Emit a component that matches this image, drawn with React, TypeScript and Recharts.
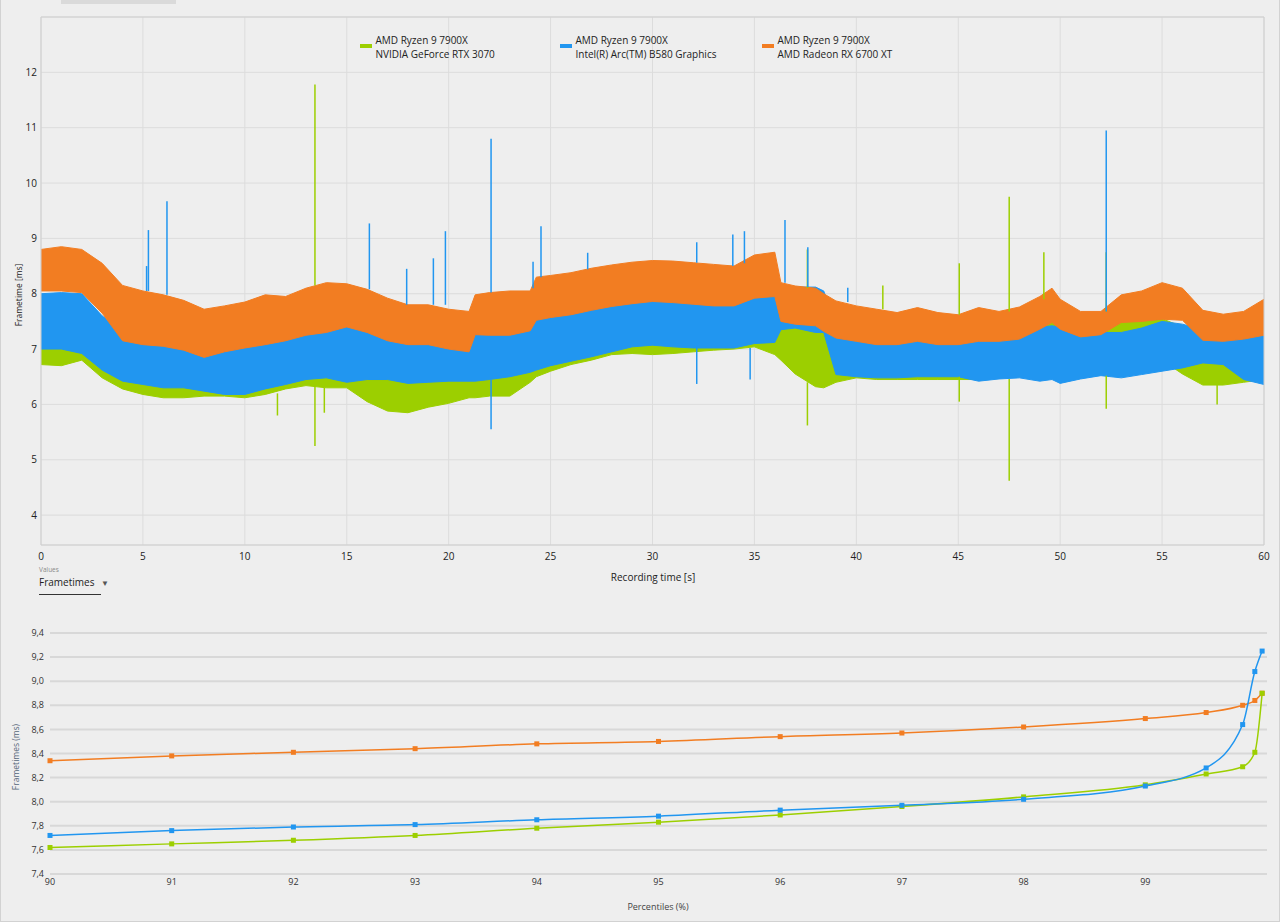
import React from "react";
import {
  ComposedChart,
  Area,
  XAxis,
  YAxis,
  CartesianGrid,
  ReferenceLine,
  ReferenceArea,
  LineChart,
  Line,
} from "recharts";

const FONT = "'Open Sans', 'Noto Sans', sans-serif";
const GREEN = "#9ccf00";
const BLUE = "#2196f0";
const ORANGE = "#f27d22";

// ---- frametime band (low / high edge of the dense noise) ----
const SECONDS = [
  0, 1, 2, 3, 4, 5, 6, 7, 8, 9, 10, 11, 12, 13, 14, 15, 16, 17, 18, 19, 20, 21, 21.3, 22, 23, 24, 24.3, 25, 26, 27, 28,
  29, 30, 31, 32, 33, 34, 35, 36, 36.3, 37, 38, 38.4, 39, 40, 41, 42, 43, 44, 45, 46, 47, 48, 49, 49.6, 50, 51, 52, 53,
  54, 55, 56, 57, 58, 59, 60,
];

const ORANGE_HI = [
  8.8, 8.85, 8.8, 8.55, 8.15, 8.05, 7.98, 7.88, 7.72, 7.78, 7.85, 7.98, 7.95, 8.1, 8.2, 8.18, 8.08, 7.92, 7.8, 7.8,
  7.72, 7.68, 7.98, 8.02, 8.05, 8.05, 8.3, 8.33, 8.38, 8.46, 8.52, 8.57, 8.6, 8.59, 8.56, 8.53, 8.5, 8.7, 8.75, 8.2,
  8.14, 8.1, 8.0, 7.87, 7.78, 7.72, 7.66, 7.75, 7.66, 7.62, 7.75, 7.68, 7.76, 7.95, 8.1, 7.9, 7.68, 7.68, 7.98, 8.05,
  8.2, 8.1, 7.7, 7.63, 7.68, 7.9,
];
const ORANGE_LO = [
  8.05, 8.05, 8.02, 7.65, 7.15, 7.08, 7.05, 6.98, 6.85, 6.95, 7.02, 7.08, 7.15, 7.25, 7.3, 7.4, 7.3, 7.15, 7.08, 7.08,
  7.0, 6.95, 7.26, 7.25, 7.25, 7.33, 7.52, 7.57, 7.62, 7.7, 7.77, 7.82, 7.86, 7.84, 7.81, 7.78, 7.78, 7.92, 7.95, 7.5,
  7.45, 7.42, 7.32, 7.2, 7.14, 7.08, 7.08, 7.14, 7.08, 7.08, 7.14, 7.14, 7.18, 7.36, 7.48, 7.36, 7.22, 7.26, 7.48, 7.5,
  7.54, 7.52, 7.16, 7.14, 7.18, 7.25,
];
const BLUE_HI = [
  8.0, 8.02, 8.0, 7.6, 7.32, 7.2, 7.14, 7.08, 7.02, 7.14, 7.2, 7.22, 7.28, 7.34, 7.4, 7.5, 7.45, 7.38, 7.3, 7.3, 7.25,
  7.3, 7.32, 7.4, 7.4, 7.45, 7.55, 7.6, 7.68, 7.75, 7.82, 7.86, 7.88, 7.86, 7.84, 7.82, 7.82, 7.95, 7.98, 8.1, 8.12,
  8.12, 8.05, 7.45, 7.4, 7.38, 7.38, 7.4, 7.4, 7.38, 7.38, 7.38, 7.38, 7.4, 7.42, 7.4, 7.3, 7.3, 7.3, 7.38, 7.5, 7.45,
  7.35, 7.3, 7.32, 7.35,
];
const BLUE_LO = [
  7.0, 7.0, 6.92, 6.62, 6.42, 6.36, 6.3, 6.3, 6.24, 6.18, 6.18, 6.28, 6.36, 6.45, 6.48, 6.4, 6.45, 6.45, 6.38, 6.4,
  6.42, 6.42, 6.42, 6.45, 6.5, 6.58, 6.62, 6.7, 6.78, 6.86, 6.95, 7.04, 7.07, 7.04, 7.02, 7.02, 7.02, 7.1, 7.12, 7.35,
  7.38, 7.3, 7.3, 6.54, 6.5, 6.48, 6.48, 6.5, 6.5, 6.5, 6.42, 6.46, 6.48, 6.42, 6.45, 6.38, 6.46, 6.52, 6.48, 6.54,
  6.6, 6.66, 6.75, 6.72, 6.45, 6.36,
];
const GREEN_HI = [
  7.4, 7.45, 7.7, 7.4, 7.0, 6.9, 6.85, 6.8, 6.8, 6.85, 6.9, 6.95, 7.0, 7.1, 7.15, 7.2, 7.1, 6.95, 6.9, 6.9, 6.9, 6.95,
  6.96, 7.0, 7.0, 7.15, 7.25, 7.35, 7.45, 7.55, 7.6, 7.62, 7.65, 7.62, 7.6, 7.6, 7.62, 7.65, 7.6, 7.5, 7.4, 7.35, 7.3,
  7.1, 7.05, 7.0, 7.05, 7.05, 7.1, 7.1, 7.2, 7.2, 7.25, 7.4, 7.5, 7.45, 7.2, 7.35, 7.65, 7.65, 7.55, 7.4, 7.1, 7.05,
  7.0, 7.1,
];
const GREEN_LO = [
  6.72, 6.7, 6.8, 6.48, 6.28, 6.18, 6.12, 6.12, 6.15, 6.15, 6.12, 6.18, 6.28, 6.34, 6.3, 6.3, 6.05, 5.88, 5.85, 5.95,
  6.02, 6.12, 6.12, 6.15, 6.15, 6.4, 6.5, 6.6, 6.72, 6.8, 6.9, 6.92, 6.9, 6.92, 6.95, 6.98, 7.0, 7.04, 6.9, 6.8, 6.55,
  6.32, 6.3, 6.4, 6.48, 6.45, 6.45, 6.45, 6.45, 6.45, 6.45, 6.48, 6.5, 6.52, 6.52, 6.5, 6.5, 6.55, 6.9, 6.92, 6.8,
  6.55, 6.35, 6.35, 6.4, 6.45,
];

// single-frame spikes sticking out of the bands: time, start value, end value
const GREEN_SPIKE_T = [13.44, 37.6, 41.3, 45.05, 47.5, 49.2, 52.26, 11.6, 13.44, 13.9, 37.6, 45.05, 47.5, 52.26, 57.7];
const GREEN_SPIKE_FROM = [8.15, 8.1, 7.72, 7.62, 7.68, 7.9, 7.68, 6.2, 6.35, 6.3, 6.4, 6.5, 6.46, 6.52, 6.35];
const GREEN_SPIKE_TO = [11.78, 8.8, 8.15, 8.55, 9.75, 8.75, 8.75, 5.8, 5.25, 5.85, 5.62, 6.05, 4.62, 5.92, 6.0];

const BLUE_SPIKE_T = [
  5.18, 5.27, 6.18, 16.11, 17.94, 19.25, 19.84, 22.08, 24.14, 24.53, 26.82, 32.17, 33.94, 34.51, 36.5, 37.62, 39.58,
  52.26, 22.08, 32.17, 34.79,
];
const BLUE_SPIKE_FROM = [
  8.05, 8.05, 7.98, 8.08, 7.8, 7.8, 7.8, 8.02, 8.1, 8.3, 8.44, 8.56, 8.5, 8.55, 8.2, 8.12, 7.85, 7.68, 6.45, 7.02, 7.02,
];
const BLUE_SPIKE_TO = [
  8.5, 9.15, 9.67, 9.27, 8.45, 8.64, 9.13, 10.8, 8.58, 9.22, 8.74, 8.93, 9.07, 9.13, 9.33, 8.84, 8.11, 10.95, 5.55,
  6.37, 6.45,
];

const TIME_TICKS = [0, 5, 10, 15, 20, 25, 30, 35, 40, 45, 50, 55, 60];
const FT_TICKS = [4, 5, 6, 7, 8, 9, 10, 11, 12];
const FT_DOMAIN = [3.46, 13.0];

// ---- percentiles ----
const PERCENTILES = [90, 91, 92, 93, 94, 95, 96, 97, 98, 99, 99.5, 99.8, 99.9, 99.96];
const PCT_GREEN = [7.62, 7.65, 7.68, 7.72, 7.78, 7.83, 7.89, 7.96, 8.04, 8.14, 8.23, 8.29, 8.41, 8.9];
const PCT_BLUE = [7.72, 7.76, 7.79, 7.81, 7.85, 7.88, 7.93, 7.97, 8.02, 8.13, 8.28, 8.64, 9.08, 9.25];
const PCT_ORANGE = [8.34, 8.38, 8.41, 8.44, 8.48, 8.5, 8.54, 8.57, 8.62, 8.69, 8.74, 8.8, 8.84, 8.9];
const PCT_TICKS = [90, 91, 92, 93, 94, 95, 96, 97, 98, 99];
const PCT_Y_TICKS = [7.4, 7.6, 7.8, 8.0, 8.2, 8.4, 8.6, 8.8, 9.0, 9.2, 9.4];

const LEGEND = [
  { cpu: "AMD Ryzen 9 7900X", gpu: "NVIDIA GeForce RTX 3070", color: GREEN, x: 359 },
  { cpu: "AMD Ryzen 9 7900X", gpu: "Intel(R) Arc(TM) B580 Graphics", color: BLUE, x: 559 },
  { cpu: "AMD Ryzen 9 7900X", gpu: "AMD Radeon RX 6700 XT", color: ORANGE, x: 761 },
];

const frameData = SECONDS.map((t, i) => ({
  t,
  g: [GREEN_LO[i], GREEN_HI[i]],
  b: [BLUE_LO[i], BLUE_HI[i]],
  o: [ORANGE_LO[i], ORANGE_HI[i]],
}));

const pctData = PERCENTILES.map((p, i) => ({ p, g: PCT_GREEN[i], b: PCT_BLUE[i], o: PCT_ORANGE[i] }));

function spikes(ts: number[], from: number[], to: number[], color: string, key: string) {
  return ts.map((t, i) => (
    <ReferenceLine
      key={key + i}
      segment={[
        { x: t, y: from[i] },
        { x: t, y: to[i] },
      ]}
      stroke={color}
      strokeWidth={1.5}
    />
  ));
}

function squareDot(color: string) {
  return (p: any) => <rect key={p.index} x={p.cx - 2.5} y={p.cy - 2.5} width={5} height={5} fill={color} />;
}

const abs = (left: number, top: number): React.CSSProperties => ({ position: "absolute", left, top });

export default function App() {
  return (
    <div
      style={{
        position: "absolute",
        left: 0,
        top: 0,
        width: 1280,
        height: 922,
        background: "#eeeeee",
        fontFamily: FONT,
        color: "#222",
        overflow: "hidden",
        boxSizing: "border-box",
        borderLeft: "1px solid #d2d2d2",
        borderRight: "1px solid #d2d2d2",
        borderBottom: "1px solid #d2d2d2",
      }}
    >
      <div style={{ ...abs(60, 0), width: 115, height: 4, background: "#dadada" }} />

      {/* frametimes over time */}
      <div style={abs(0, 0)}>
        <ComposedChart width={1280} height={600} data={frameData} margin={{ top: 17, right: 17, bottom: 25, left: 0 }}>
          <CartesianGrid stroke="#dcdcdc" />
          <XAxis
            type="number"
            dataKey="t"
            domain={[0, 60]}
            ticks={TIME_TICKS}
            axisLine={false}
            tickLine={false}
            height={30}
            tick={{ fontSize: 10, fill: "#222", fontFamily: FONT }}
          />
          <YAxis
            type="number"
            domain={FT_DOMAIN}
            ticks={FT_TICKS}
            allowDataOverflow
            axisLine={false}
            tickLine={false}
            tickSize={2}
            width={40}
            tick={{ fontSize: 10, fill: "#222", fontFamily: FONT }}
          />
          <Area dataKey="g" type="linear" stroke={GREEN} strokeWidth={1} fill={GREEN} fillOpacity={1} dot={false} activeDot={false} isAnimationActive={false} />
          <Area dataKey="b" type="linear" stroke={BLUE} strokeWidth={1} fill={BLUE} fillOpacity={1} dot={false} activeDot={false} isAnimationActive={false} />
          <Area dataKey="o" type="linear" stroke={ORANGE} strokeWidth={1} fill={ORANGE} fillOpacity={1} dot={false} activeDot={false} isAnimationActive={false} />
          {spikes(GREEN_SPIKE_T, GREEN_SPIKE_FROM, GREEN_SPIKE_TO, GREEN, "gs")}
          {spikes(BLUE_SPIKE_T, BLUE_SPIKE_FROM, BLUE_SPIKE_TO, BLUE, "bs")}
          <ReferenceArea x1={0} x2={60} y1={FT_DOMAIN[0]} y2={FT_DOMAIN[1]} fill="none" stroke="#cfcfcf" />
        </ComposedChart>
      </div>

      {LEGEND.map((l) => (
        <React.Fragment key={l.gpu}>
          <div style={{ ...abs(l.x, 44), width: 11.5, height: 3.5, background: l.color }} />
          <div style={{ ...abs(l.x + 15.5, 33), fontSize: 10, lineHeight: "14px", whiteSpace: "nowrap", color: "#222" }}>
            <div>{l.cpu}</div>
            <div>{l.gpu}</div>
          </div>
        </React.Fragment>
      ))}

      <div
        style={{
          ...abs(17, 295),
          fontSize: 8.5,
          whiteSpace: "nowrap",
          transform: "translate(-50%, -50%) rotate(-90deg)",
        }}
      >
        Frametime [ms]
      </div>
      <div style={{ ...abs(652, 577), fontSize: 10, whiteSpace: "nowrap", transform: "translate(-50%, -50%)" }}>
        Recording time [s]
      </div>

      <div style={{ ...abs(38, 565), fontSize: 6.5, color: "#8a8a8a" }}>Values</div>
      <div style={{ ...abs(38, 575), fontSize: 10, color: "#222", whiteSpace: "nowrap" }}>
        Frametimes <span style={{ fontSize: 8, color: "#555", marginLeft: 4 }}>▼</span>
      </div>
      <div style={{ ...abs(38, 594), width: 62, height: 1, background: "#333" }} />

      {/* percentiles */}
      <div style={abs(0, 600)}>
        <LineChart width={1280} height={322} data={pctData} margin={{ top: 33, right: 14, bottom: 24, left: 0 }}>
          <CartesianGrid vertical={false} stroke="#d8d8d8" strokeWidth={2} />
          <XAxis
            type="number"
            dataKey="p"
            domain={[90, 100]}
            ticks={PCT_TICKS}
            axisLine={false}
            tickLine={false}
            tickSize={3}
            height={24}
            tick={{ fontSize: 9, fill: "#333", fontFamily: FONT }}
          />
          <YAxis
            type="number"
            domain={[7.4, 9.4]}
            ticks={PCT_Y_TICKS}
            tickFormatter={(v: number) => v.toFixed(1).replace(".", ",")}
            axisLine={false}
            tickLine={false}
            tickSize={4}
            width={49}
            tick={{ fontSize: 9, fill: "#333", fontFamily: FONT }}
          />
          <Line dataKey="o" type="monotone" stroke={ORANGE} strokeWidth={1.5} dot={squareDot(ORANGE)} activeDot={false} isAnimationActive={false} />
          <Line dataKey="g" type="monotone" stroke={GREEN} strokeWidth={1.5} dot={squareDot(GREEN)} activeDot={false} isAnimationActive={false} />
          <Line dataKey="b" type="monotone" stroke={BLUE} strokeWidth={1.5} dot={squareDot(BLUE)} activeDot={false} isAnimationActive={false} />
        </LineChart>
      </div>

      <div
        style={{
          ...abs(14, 757),
          fontSize: 8.5,
          color: "#56677a",
          whiteSpace: "nowrap",
          transform: "translate(-50%, -50%) rotate(-90deg)",
        }}
      >
        Frametimes (ms)
      </div>
      <div style={{ ...abs(657, 906), fontSize: 9, color: "#444", whiteSpace: "nowrap", transform: "translate(-50%, -50%)" }}>
        Percentiles (%)
      </div>
    </div>
  );
}
